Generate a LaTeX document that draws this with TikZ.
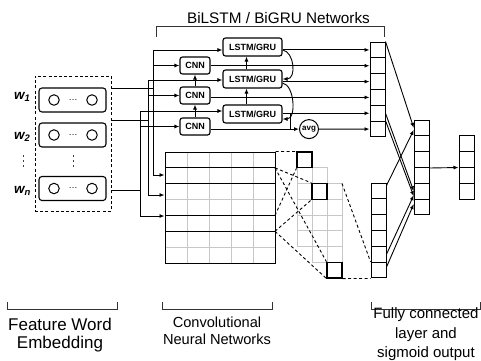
\documentclass[tikz,border=0pt]{standalone}
\usepackage{fontspec}
\setmainfont{Liberation Sans}
\usetikzlibrary{arrows.meta,calc}
\begin{document}
\begin{tikzpicture}[x=1pt,y=-1pt,
  ln/.style={line width=0.9pt, draw=black},
  arr/.style={ln,-{Latex[length=5pt,width=4pt]}},
  dsh/.style={line width=0.9pt, dash pattern=on 3pt off 2.5pt},
  brk/.style={line width=0.9pt, draw=black!80},
  gridl/.style={line width=0.9pt, draw=black!22},
  netbox/.style={draw, line width=1.1pt, rounded corners=2.5pt, inner sep=0pt, fill=white,
    font=\fontsize{9}{9}\selectfont\bfseries},
  cnnbox/.style={netbox, minimum width=30pt, minimum height=17pt},
  lstmbox/.style={netbox, minimum width=59pt, minimum height=18pt},
  wordbox/.style={draw, line width=1.1pt, rounded corners=3pt, minimum width=67pt, minimum height=24pt, inner sep=0pt},
  neuron/.style={circle, draw, line width=1pt, minimum size=10.5pt, inner sep=0pt},
  cell/.style={draw, line width=1pt, minimum width=15pt, minimum height=15.83pt, inner sep=0pt},
  sq/.style={draw, line width=1.1pt, minimum width=15pt, minimum height=15.75pt, inner sep=0pt},
  lbl/.style={inner sep=0pt, anchor=base},
  wlbl/.style={inner sep=0pt, anchor=base west, font=\fontsize{13.5}{14}\selectfont\bfseries\itshape},
]
\useasboundingbox (0,0) rectangle (481,360);

% ---------- title and brackets ----------
\node[lbl, font=\fontsize{15.3}{18}\selectfont] (title) at (278.5,23) {BiLSTM / BiGRU Networks};
\draw[brk] (156,37) -- (156,26) -- (384,26) -- (384,37);

\draw[brk] (7,302) -- (7,309) -- (117,309) -- (117,302);
\draw[brk] (162,302) -- (162,309) -- (272,309) -- (272,302);
\draw[brk] (371,302) -- (371,309) -- (480,309) -- (480,302);

\node[lbl, font=\fontsize{17}{19}\selectfont] (fw1) at (60,330) {Feature Word};
\node[lbl, font=\fontsize{17}{19}\selectfont] (fw2) at (60,348) {Embedding};
\node[lbl, font=\fontsize{14.6}{17}\selectfont] (cn1) at (217,327) {Convolutional};
\node[lbl, font=\fontsize{14.6}{17}\selectfont] (cn2) at (217,344) {Neural Networks};
\node[lbl, font=\fontsize{15}{18}\selectfont] (fc1) at (426,318) {Fully connected};
\node[lbl, font=\fontsize{15}{18}\selectfont] (fc2) at (426,338) {layer and};
\node[lbl, font=\fontsize{15}{18}\selectfont] (fc3) at (426,357) {sigmoid output};

% ---------- word embedding ----------
\node[draw, line width=1pt, dash pattern=on 3pt off 2.2pt, minimum width=76pt, minimum height=135pt, inner sep=0pt] (emb) at (73,143.5) {};
\node[wordbox] (e1) at (72.5,100) {};
\node[wordbox] (e2) at (72.5,135) {};
\node[wordbox] (en) at (72.5,188.5) {};
\foreach \e in {e1,e2,en}{
  \node[neuron] (\e a) at ($(\e.center)+(-18.5,0)$) {};
  \node[neuron] (\e b) at ($(\e.center)+(19.5,0)$) {};
  \node[inner sep=0pt, font=\fontsize{9}{9}\selectfont] (\e d) at ($(\e.center)+(0.5,0)$) {\dots};
}
\node[wlbl] (w1) at (14,99) {w\textsubscript{1}};
\node[wlbl] (w2) at (14,139) {w\textsubscript{2}};
\node[wlbl] (wn) at (14,193) {w\textsubscript{n}};
\foreach \x in {23,73}{
  \foreach \y in {156,161,166}{
    \fill[black!75] (\x-0.45,\y-0.9) rectangle (\x+0.45,\y+0.9);
  }
}

% ---------- CNN and LSTM ----------
\node[cnnbox] (cnn1) at (195,65.5) {CNN};
\node[cnnbox] (cnn2) at (195,95.5) {CNN};
\node[cnnbox] (cnn3) at (195,126.5) {CNN};
\node[lstmbox] (lstm1) at (252.5,47) {LSTM/GRU};
\node[lstmbox] (lstm2) at (252.5,79) {LSTM/GRU};
\node[lstmbox] (lstm3) at (252.5,114) {LSTM/GRU};
\node[circle, draw, line width=1pt, minimum size=19pt, inner sep=0pt, font=\fontsize{8}{8}\selectfont\bfseries] (avg) at (309,129.1) {avg};

\draw[arr] (cnn3.north) -- (cnn2.south);
\draw[arr] (cnn2.north) -- (cnn1.south);
\draw[arr] ([xshift=-6pt]lstm3.north) -- ([xshift=-6pt]lstm2.south);
\draw[arr] ([xshift=-6pt]lstm2.north) -- ([xshift=-6pt]lstm1.south);

% ---------- columns ----------
\foreach \i in {1,...,6}{
  \node[cell] (r\i) at (377.5,{42+15.83*(\i-0.5)}) {};
  \node[cell] (b\i) at (378.5,{183+15.83*(\i-0.5)}) {};
  \node[cell] (m\i) at (421.75,{120+15.83*(\i-0.5)}) {};
}
\foreach \i in {1,...,4}{
  \node[cell, minimum height=16pt] (o\i) at (466.5,{135+16*(\i-0.5)}) {};
}

% ---------- left wiring ----------
\coordinate (j1) at (153,88);  \coordinate (j1t) at (153,50);  \coordinate (j1b) at (153,175);
\coordinate (j2) at (148,120); \coordinate (j2t) at (148,80);  \coordinate (j2b) at (148,195);
\coordinate (j3) at (140,190); \coordinate (j3t) at (140,111); \coordinate (j3b) at (140,216);

% ---------- matrix ----------
\foreach \i in {1,...,4} \draw[gridl] ({165+22*\i},152) -- ({165+22*\i},263);
\foreach \j in {3,6} \draw[gridl] (165,{152+15.857*\j}) -- (275,{152+15.857*\j});
\foreach \j in {1,2,4,5} \draw[ln] (165,{152+15.857*\j}) -- (275,{152+15.857*\j});
\node[draw, line width=1pt, minimum width=110pt, minimum height=111pt, inner sep=0pt] (mat) at (220,207.5) {};
\coordinate (mk1) at (275,167.86);
\coordinate (mk4) at (275,215.43);
\coordinate (mk5) at (275,231.29);

\draw[ln] (emb.east |- j1) -- (j1);
\draw[ln] (emb.east |- j2) -- (j2);
\draw[ln] (emb.east |- j3) -- (j3);
\draw[ln] (j1t) -- (j1b);
\draw[ln] (j2t) -- (j2b);
\draw[ln] (j3t) -- (j3b);
\draw[arr] (j1t) -- (lstm1.west |- j1t);
\draw[arr] (j2t) -- (lstm2.west |- j2t);
\draw[arr] (j3t) -- (lstm3.west |- j3t);
\draw[arr] (j1 |- cnn1) -- (cnn1.west);
\draw[arr] (j2 |- cnn2) -- (cnn2.west);
\draw[arr] (j3 |- cnn3) -- (cnn3.west);
\draw[arr] (j1b) -- (mat.west |- j1b);
\draw[arr] (j2b) -- (mat.west |- j2b);
\draw[arr] (j3b) -- (mat.west |- j3b);

% ---------- outputs to first column ----------
\draw[arr] (lstm1.east |- r1) -- (r1.west);
\draw[arr] (cnn1.east |- r2) -- (r2.west);
\draw[arr] (lstm2.east |- r3) -- (r3.west);
\draw[arr] (cnn2.east |- r4) -- (r4.west);
\draw[arr] (lstm3.east |- r5) -- (r5.west);
\draw[arr] (cnn3.east |- avg) -- (avg.west);
\draw[ln] ([xshift=8pt]lstm3.east |- r5) -- ([xshift=8pt]lstm3.east |- avg);
\draw[arr] (avg.east) -- (r6.west);
\draw[arr] (lstm1.east |- r1) .. controls ($(lstm1.east |- r1)+(12,2)$) and ($(lstm2.east)+(14,0)$) .. (lstm2.east);
\draw[arr] ($(lstm2.east)+(0,4)$) .. controls ($(lstm2.east)+(12,6)$) and ($(lstm3.east)+(14,5)$) .. ($(lstm3.east)+(0,5)$);

% ---------- feature maps ----------
\foreach \c/\a/\b in {0/1/5, 1/1/6, 2/2/6}{
  \foreach \r in {\a,...,\b}{
    \draw[gridl] ({297+15*\c},{152+15.75*\r}) rectangle ++(15,15.75);
  }
}
\node[sq] (fa) at (304.5,159.875) {};
\node[sq] (fb) at (319.5,191.375) {};
\node[sq] (fc) at (334.5,270.125) {};
\coordinate (gtr) at (342,183.5);

\draw[dsh] (mat.north east) -- (fa.north west);
\draw[dsh] (mk4) -- (fa.south west);
\draw[dsh] (mk1) -- (fb.north west);
\draw[dsh] (mk5) -- (fb.south west);
\draw[dsh] (mk1) -- (fc.north west);
\draw[dsh] (mk5) -- (fc.south west);
\draw[dsh] (gtr) -- (b6.north west);
\draw[dsh] (fc.south east) -- (b6.south west);

% ---------- fully connected ----------
\draw[arr] (r1.north east) -- (m1.west);
\draw[arr] (r5.east) -- (m5.west);
\draw[arr] (r6.north east) -- ($(m5.west)+(0,5)$);
\draw[arr] ($(b1.north east)+(0,3)$) -- ($(m1.west)+(0,2)$);
\draw[arr] (b5.east) -- ($(m5.west)+(0,4)$);
\draw[arr] ($(b6.east)+(0,-3)$) -- ($(m6.west)+(0,-3)$);
\draw[arr] (m3.south east) -- (o2.south west);
\end{tikzpicture}
\end{document}
